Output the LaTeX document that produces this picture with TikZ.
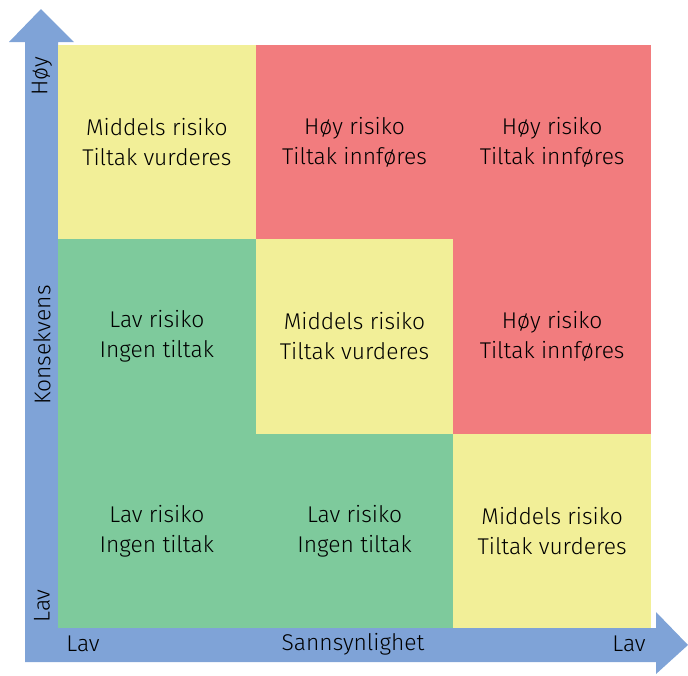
\documentclass[tikz,border=0pt]{standalone}
\usepackage{fontspec}
\setmainfont{Fira Sans Light}[BoldFont=Fira Sans]
\definecolor{cyel}{HTML}{F2EF98}
\definecolor{cred}{HTML}{F27C7E}
\definecolor{cgrn}{HTML}{7ECA9C}
\definecolor{cblu}{HTML}{7FA3D7}
\begin{document}
\begin{tikzpicture}[x=1pt,y=-1pt,
  cellbox/.style={minimum width=197.7pt,minimum height=194.3pt,inner sep=0pt,outer sep=0pt,anchor=north west,align=center,font=\fontsize{22.8}{30}\selectfont},
  axlab/.style={font=\fontsize{22.8}{26}\selectfont,inner sep=0pt}]
\useasboundingbox (0,0) rectangle (688,675);
% arrows
\fill[cblu] (25,628) -- (25,42) -- (9,42) -- (41,9) -- (74,42) -- (58,42) -- (58,628) -- cycle;
\fill[cblu] (25,628) -- (656,628) -- (656,612) -- (688,645) -- (656,674) -- (656,662) -- (25,662) -- cycle;
% cells
\node[cellbox,fill=cyel] (c11) at (58,45) {Middels risiko\\Tiltak vurderes};
\node[cellbox,fill=cred] (c12) at (255.7,45) {Høy risiko\\Tiltak innføres};
\node[cellbox,fill=cred] (c13) at (453.3,45) {Høy risiko\\Tiltak innføres};
\node[cellbox,fill=cgrn] (c21) at (58,239.3) {Lav risiko\\Ingen tiltak};
\node[cellbox,fill=cyel] (c22) at (255.7,239.3) {Middels risiko\\Tiltak vurderes};
\node[cellbox,fill=cred] (c23) at (453.3,239.3) {Høy risiko\\Tiltak innføres};
\node[cellbox,fill=cgrn] (c31) at (58,433.7) {Lav risiko\\Ingen tiltak};
\node[cellbox,fill=cgrn] (c32) at (255.7,433.7) {Lav risiko\\Ingen tiltak};
\node[cellbox,fill=cyel] (c33) at (453.3,433.7) {Middels risiko\\Tiltak vurderes};
% axis labels
\node[axlab,rotate=90] (yh) at (42,76) {Høy};
\node[axlab,rotate=90] (yk) at (42,345) {Konsekvens};
\node[axlab,rotate=90] (yl) at (42,606) {Lav};
\node[axlab] (xl) at (83,644) {Lav};
\node[axlab] (xs) at (353,644) {Sannsynlighet};
\node[axlab] (xr) at (629,644) {Lav};
\end{tikzpicture}
\end{document}
